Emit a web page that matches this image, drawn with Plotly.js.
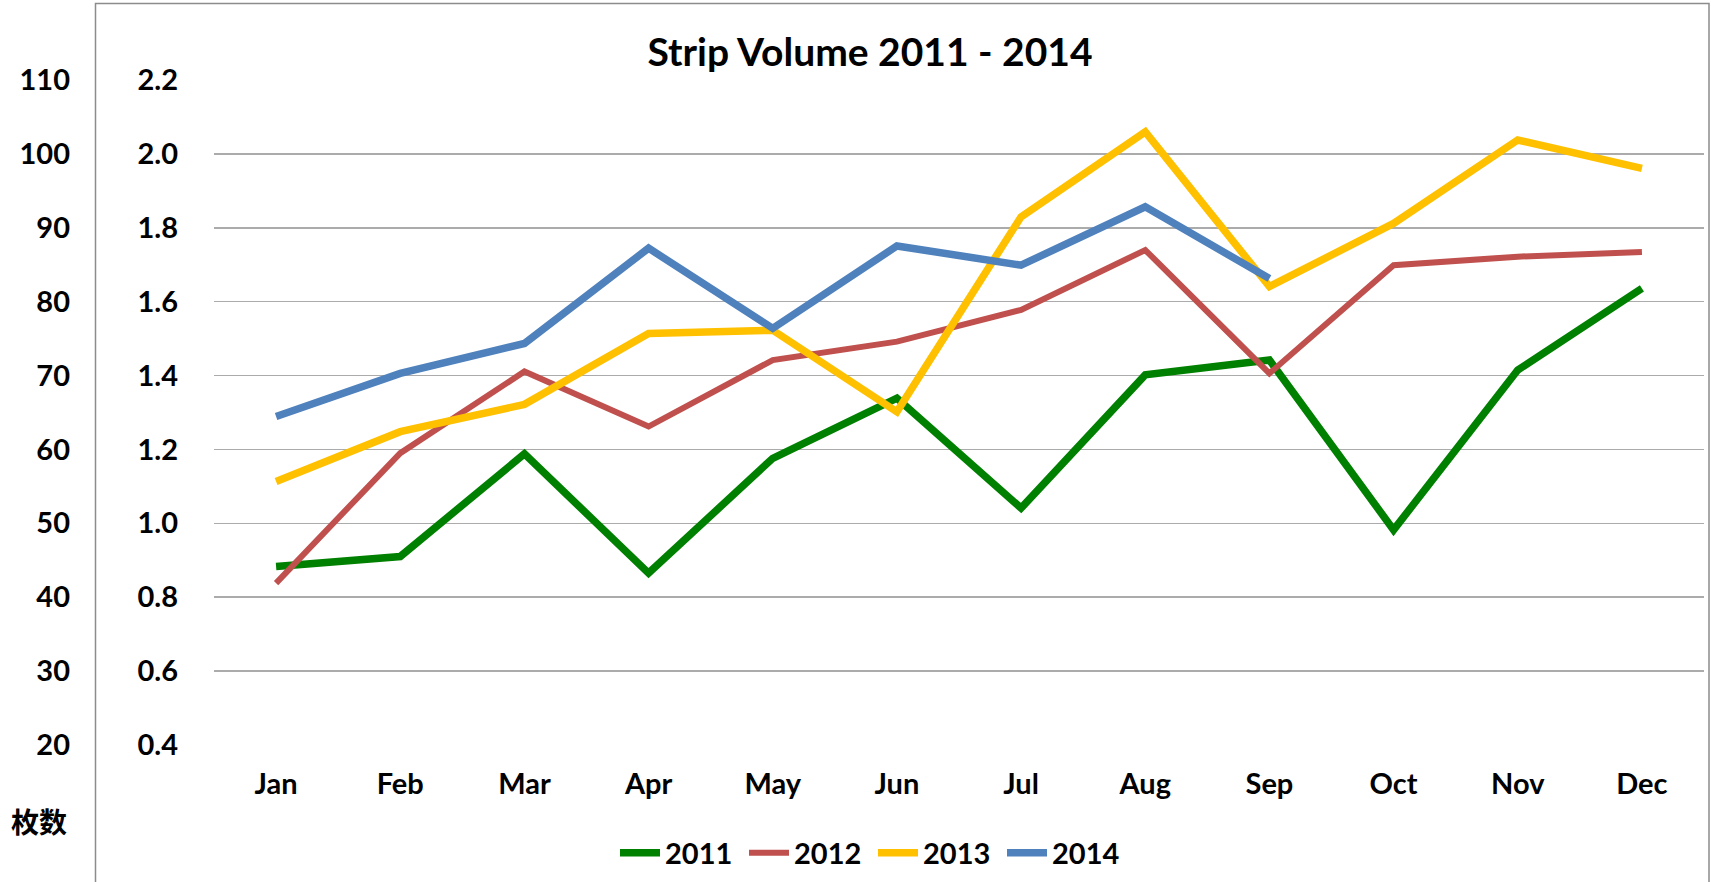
<!DOCTYPE html>
<html>
<head>
<meta charset="utf-8">
<script src="https://cdn.plot.ly/plotly-3.0.1.min.js"></script>
<style>html,body{margin:0;padding:0;background:#fff;}#chart{width:1711px;height:882px;}</style>
</head>
<body>
<div id="chart"></div>
<script>
const months = ["Jan","Feb","Mar","Apr","May","Jun","Jul","Aug","Sep","Oct","Nov","Dec"];
const s2011 = [0.883, 0.910, 1.188, 0.865, 1.176, 1.339, 1.041, 1.402, 1.442, 0.982, 1.415, 1.636];
const s2012 = [0.838, 1.190, 1.411, 1.262, 1.442, 1.492, 1.578, 1.740, 1.406, 1.699, 1.722, 1.735];
const s2013 = [1.113, 1.248, 1.322, 1.514, 1.523, 1.302, 1.830, 2.060, 1.641, 1.812, 2.038, 1.961];
const s2014 = [1.289, 1.406, 1.487, 1.745, 1.528, 1.751, 1.699, 1.857, 1.663];
const seriesNames = ["2011","2012","2013","2014"];
const seriesColors = ["#008000","#C0504D","#FFC000","#4F81BD"];
const seriesWidths = [7.5, 6, 7.5, 7.5];
const leftRange = [0.4, 2.2];
const countRange = [20, 110];
const titleText = "Strip Volume 2011 - 2014";
const countLabel = "枚数";

const FONT = "Lato, 'Open Sans', sans-serif";
const TICK = 29;
const W = 1711, H = 882;
const plotL = 214, plotR = 1704, plotT = 80, plotB = 745;
const mT = plotT, mB = H - plotB;
const ph = plotB - plotT;
const py = (y) => 1 - (y - plotT) / ph;

const allSeries = [s2011, s2012, s2013, s2014];
const traces = allSeries.map((vals, i) => ({
  type: "scatter", mode: "lines",
  x: months.slice(0, vals.length), y: vals,
  name: seriesNames[i],
  line: {color: seriesColors[i], width: seriesWidths[i]},
  hoverinfo: "x+y+name"
}));

const eps = 0.0005;
const tf = {family: FONT, size: TICK, color: "#000", weight: "bold"};
const layout = {
  width: W, height: H,
  margin: {l: 0, r: 0, t: mT, b: mB, autoexpand: false},
  paper_bgcolor: "#fff", plot_bgcolor: "#fff",
  font: {family: FONT, color: "#000"},
  title: {text: "<b>" + titleText + "</b>", font: {family: FONT, size: 39, color: "#000"},
          x: 870 / W, xanchor: "center", xref: "paper", y: 1 - 52 / H, yanchor: "middle", yref: "container"},
  showlegend: true,
  legend: {orientation: "h", x: 873 / W, xanchor: "center", y: py(853), yanchor: "middle",
           font: tf, itemwidth: 40, entrywidth: 74, entrywidthmode: "pixels", bgcolor: "rgba(0,0,0,0)"},
  xaxis: {type: "category", domain: [plotL / W, plotR / W], range: [-0.5, 11.5], showgrid: false, zeroline: false,
          showline: false, ticks: "", ticklabelstandoff: 19, tickfont: tf, fixedrange: true},
  yaxis: {range: [leftRange[0] - eps, leftRange[1] + eps], dtick: 0.2, tick0: 0.4, tickformat: ".1f", showgrid: true,
          gridcolor: "#ababab", gridwidth: 1.3, zeroline: false, showline: false, ticks: "", ticklabelstandoff: 35,
          tickfont: tf, fixedrange: true},
  yaxis2: {overlaying: "y", side: "left", anchor: "free", position: 70 / W,
           range: [countRange[0] - eps * 50, countRange[1] + eps * 50], dtick: 10, tick0: 20, showgrid: false,
           zeroline: false, showline: false, ticks: "", ticklabelstandoff: 0,
           tickfont: tf, fixedrange: true},
  shapes: [
    {type: "rect", xref: "paper", yref: "paper", x0: 95.5 / W, x1: 1709 / W, y0: py(900), y1: py(3.5),
     line: {color: "#8c8c8c", width: 1.5}, fillcolor: "rgba(0,0,0,0)", layer: "below"}
  ],
  annotations: [
    {text: "<b>" + countLabel + "</b>", xref: "paper", yref: "paper", x: 39 / W, y: py(821), xanchor: "center", yanchor: "middle",
     showarrow: false, font: {family: "'Noto Sans CJK SC', sans-serif", size: 28, color: "#000"}}
  ]
};

traces.push({type: "scatter", mode: "lines", x: [months[0]], y: [null], yaxis: "y2", showlegend: false, hoverinfo: "skip"});

Plotly.newPlot("chart", traces, layout, {displayModeBar: false, staticPlot: true});
</script>
</body>
</html>
